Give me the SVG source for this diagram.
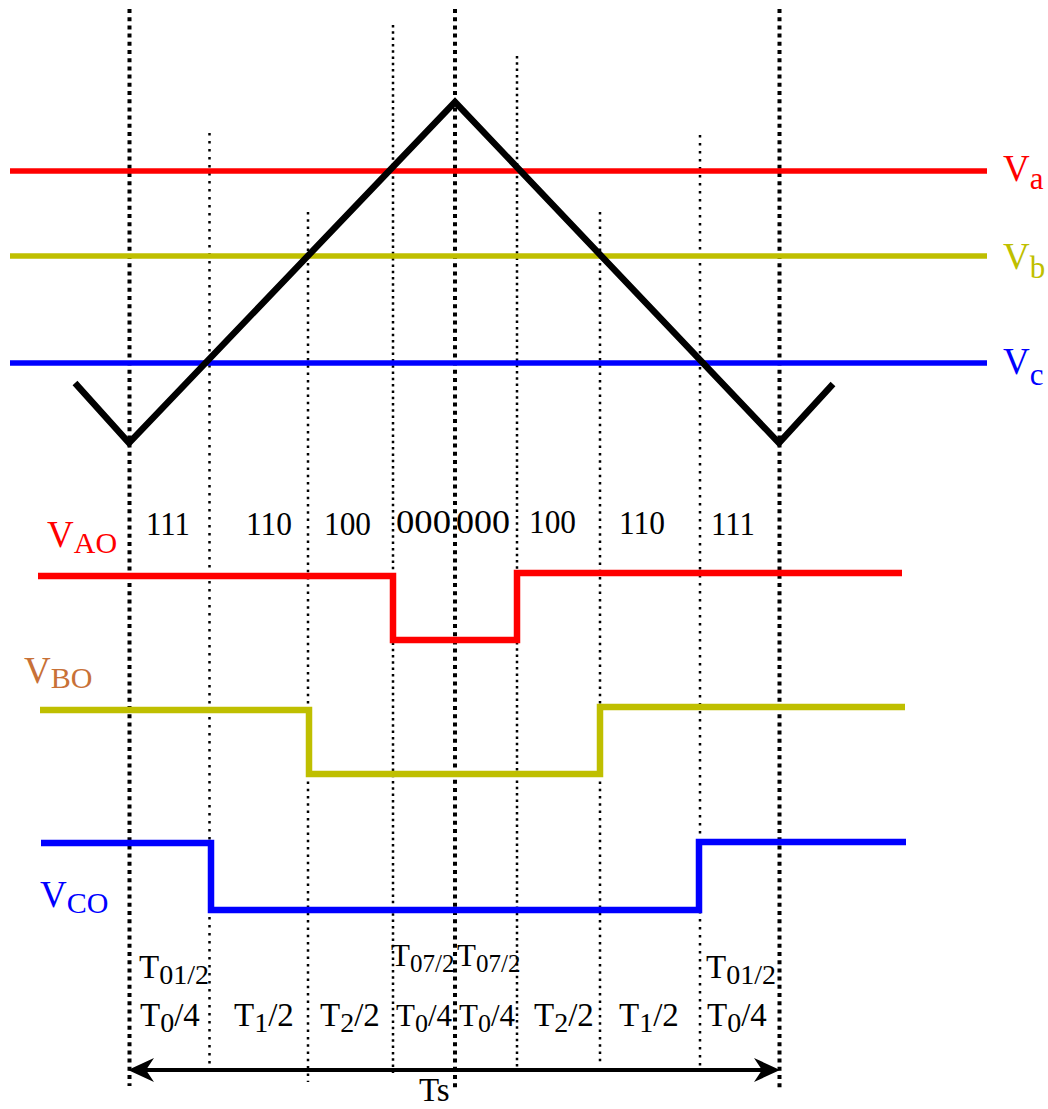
<svg xmlns="http://www.w3.org/2000/svg" width="1048" height="1109" viewBox="0 0 1048 1109">
<style>
text{font-family:"Liberation Serif","Times New Roman",serif;}
.dk{stroke:#000;stroke-width:4;stroke-dasharray:4 4.2;fill:none}
.d8{stroke:#000;stroke-width:2.5;stroke-dasharray:2.5 5.5;fill:none}
.d7{stroke:#000;stroke-width:2.5;stroke-dasharray:2.5 4.8;fill:none}
.d6{stroke:#000;stroke-width:2.5;stroke-dasharray:2.5 3.8;fill:none}
.w{fill:none;stroke-width:6.5;stroke-linejoin:miter}
.code{font-size:34px;fill:#000}
.tm{font-size:33px;fill:#000}
.tc{font-size:31px;fill:#000}
</style>
<rect width="1048" height="1109" fill="#fff"/>
<g id="grid">
<line class="dk" x1="129.5" y1="9" x2="129.5" y2="1086"/>
<line class="dk" x1="455" y1="9" x2="455" y2="1090"/>
<line class="dk" x1="779.5" y1="9" x2="779.5" y2="1088"/>
<line class="d8" x1="209.5" y1="133" x2="209.5" y2="1072"/>
<line class="d8" x1="700" y1="135" x2="700" y2="1071"/>
<line class="d7" x1="308" y1="212" x2="308" y2="1082"/>
<line class="d7" x1="600" y1="212" x2="600" y2="1066"/>
<line class="d6" x1="393" y1="25" x2="393" y2="1073"/>
<line class="d6" x1="517" y1="56" x2="517" y2="1072"/>
</g>
<g id="references">
<line x1="10" y1="171" x2="987" y2="171" stroke="#FF0000" stroke-width="5.5"/>
<line x1="10" y1="256" x2="987" y2="256" stroke="#BFBF00" stroke-width="5.5"/>
<line x1="10" y1="363" x2="987" y2="363" stroke="#0000FF" stroke-width="5.5"/>
<text x="1003" y="181" font-size="37" fill="#FF0000">V<tspan font-size="31" dy="8">a</tspan></text>
<text x="1003" y="269" font-size="37" fill="#BFBF00">V<tspan font-size="31" dy="9">b</tspan></text>
<text x="1003" y="374" font-size="37" fill="#0000FF">V<tspan font-size="31" dy="11">c</tspan></text>
</g>
<g id="carrier">
<polyline class="w" stroke="#000" points="75,383 129,443 455,102 779,443 833,384"/>
</g>
<g id="states">
<text class="code" x="146" y="535" textLength="44" lengthAdjust="spacingAndGlyphs">111</text>
<text class="code" x="246" y="535" textLength="46" lengthAdjust="spacingAndGlyphs">110</text>
<text class="code" x="324" y="535" textLength="47" lengthAdjust="spacingAndGlyphs">100</text>
<text class="code" x="396" y="533" textLength="55" lengthAdjust="spacingAndGlyphs">000</text>
<text class="code" x="456" y="533" textLength="54" lengthAdjust="spacingAndGlyphs">000</text>
<text class="code" x="529" y="533" textLength="47" lengthAdjust="spacingAndGlyphs">100</text>
<text class="code" x="619" y="534" textLength="46" lengthAdjust="spacingAndGlyphs">110</text>
<text class="code" x="711" y="535" textLength="44" lengthAdjust="spacingAndGlyphs">111</text>
</g>
<g id="VAO">
<polyline class="w" stroke="#FF0000" points="38,576 393,576 393,640 517,640 517,573 902,573"/>
<text x="47" y="547" font-size="37" fill="#FF0000">V<tspan font-size="30" dy="6">AO</tspan></text>
</g>
<g id="VBO">
<polyline class="w" stroke="#BFBF00" points="40,710 309,710 309,774 600,774 600,707 905,707"/>
<text x="24" y="683" font-size="37" fill="#C87137">V<tspan font-size="30" dy="5">BO</tspan></text>
</g>
<g id="VCO">
<polyline class="w" stroke="#0000FF" points="41,843 211,843 211,910 699,910 699,842 906,842"/>
<text x="40" y="907" font-size="37" fill="#0000FF">V<tspan font-size="30" dy="6">CO</tspan></text>
</g>
<g id="times">
<text class="tm" x="139" y="978">T<tspan font-size="28" dy="6">01/2</tspan></text>
<text class="tc" x="391" y="966">T<tspan font-size="25" dy="6">07/2</tspan></text>
<text class="tc" x="457" y="966">T<tspan font-size="25" dy="6">07/2</tspan></text>
<text class="tm" x="706" y="978">T<tspan font-size="28" dy="6">01/2</tspan></text>
<text class="tm" x="140" y="1026">T<tspan font-size="28" dy="6">0</tspan><tspan dy="-6">/4</tspan></text>
<text class="tm" x="234" y="1026">T<tspan font-size="28" dy="6">1</tspan><tspan dy="-6">/2</tspan></text>
<text class="tm" x="320" y="1026">T<tspan font-size="28" dy="6">2</tspan><tspan dy="-6">/2</tspan></text>
<text class="tc" x="396" y="1026">T<tspan font-size="26" dy="6">0</tspan><tspan dy="-6">/4</tspan></text>
<text class="tc" x="459" y="1026">T<tspan font-size="26" dy="6">0</tspan><tspan dy="-6">/4</tspan></text>
<text class="tm" x="534" y="1026">T<tspan font-size="28" dy="6">2</tspan><tspan dy="-6">/2</tspan></text>
<text class="tm" x="619" y="1026">T<tspan font-size="28" dy="6">1</tspan><tspan dy="-6">/2</tspan></text>
<text class="tm" x="707" y="1026">T<tspan font-size="28" dy="6">0</tspan><tspan dy="-6">/4</tspan></text>
</g>
<g id="connectors">
<line x1="135" y1="1070" x2="773" y2="1070" stroke="#000" stroke-width="4"/>
<polygon points="128,1070 154,1058 146,1070 154,1082" fill="#000"/>
<polygon points="780,1070 754,1058 762,1070 754,1082" fill="#000"/>
<text x="419" y="1101" font-size="33" fill="#000">Ts</text>
</g>
</svg>
